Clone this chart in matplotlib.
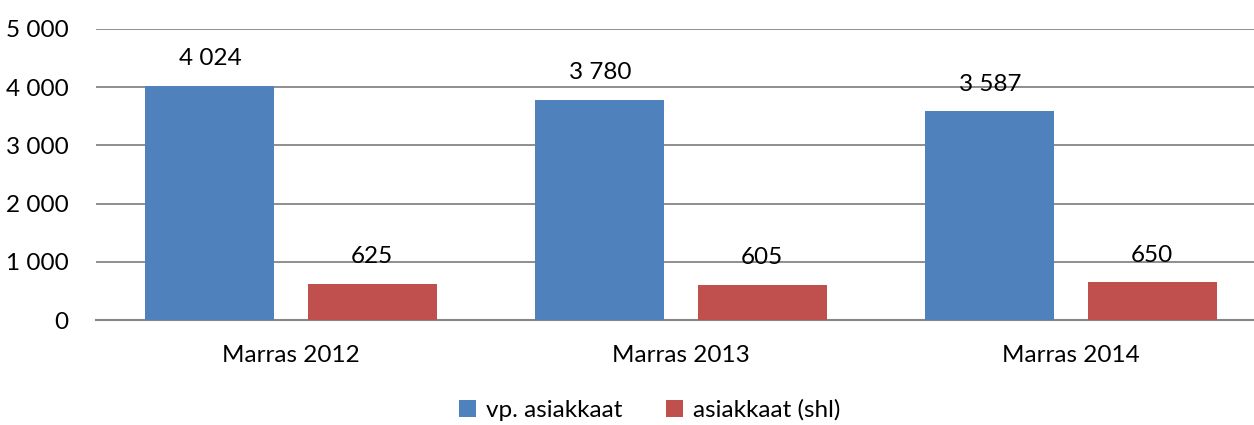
import numpy as np
import matplotlib.pyplot as plt

plt.rcParams['font.family'] = ['Lato', 'DejaVu Sans']

categories = ["Marras 2012", "Marras 2013", "Marras 2014"]
vp_asiakkaat = [4024, 3780, 3587]
shl_asiakkaat = [625, 605, 650]
series_names = ["vp. asiakkaat", "asiakkaat (shl)"]
yticks = [0, 1000, 2000, 3000, 4000, 5000]


def fmt(v):
    return f"{v:,.0f}".replace(",", " ")


fs = 17.5
fig = plt.figure(figsize=(12.54, 4.25), dpi=100)
# plot area runs a little past the right edge of the figure
ax = fig.add_axes([0.0766, 0.247, 0.933, 0.685])

x = np.arange(len(categories))
w = 0.331
off = 0.208
b1 = ax.bar(x - off, vp_asiakkaat, w, color="#4F81BD", label=series_names[0], zorder=3)
b2 = ax.bar(x + off, shl_asiakkaat, w, color="#C0504D", label=series_names[1], zorder=3)

for bars in (b1, b2):
    for r in bars:
        ax.annotate(fmt(r.get_height()), (r.get_x() + r.get_width() / 2, r.get_height()),
                    xytext=(0, 12), textcoords="offset points", ha="center", va="bottom",
                    fontsize=fs, color="black")

ax.set_xlim(-0.5, 2.5)
ax.set_ylim(0, 5000)
ax.set_yticks(yticks)
ax.set_yticklabels([fmt(v) for v in yticks], fontsize=fs)
ax.set_xticks(x)
ax.set_xticklabels(categories, fontsize=fs)
ax.tick_params(axis="both", length=0)
ax.tick_params(axis="y", pad=20)
ax.tick_params(axis="x", pad=18)
ax.grid(axis="y", color="#868686", linewidth=1.3, zorder=0)
for s in ("top", "right", "left"):
    ax.spines[s].set_visible(False)
ax.spines["bottom"].set_color("#868686")
ax.spines["bottom"].set_linewidth(1.5)

fig.legend(handles=[b1, b2], loc="center", bbox_to_anchor=(0.518, 0.035), ncol=2,
           frameon=False, fontsize=fs, handlelength=0.7, handleheight=0.7,
           handletextpad=0.4, columnspacing=1.8)

fig.savefig("out.png", dpi=100)
